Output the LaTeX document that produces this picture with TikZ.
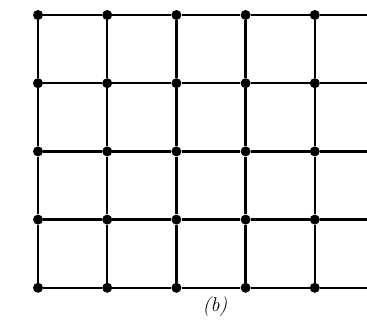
\documentclass[tikz,border=0pt]{standalone}
\usepackage{tikz}
\usetikzlibrary{positioning}

\begin{document}
\begin{tikzpicture}[x=0.03cm, y=-0.03cm,
    dot/.style={circle, fill=black, inner sep=0pt, minimum size=3mm},
    edge/.style={line width=1.9pt}]
    \useasboundingbox (0,0) rectangle (367,320);
    % grid points
    \foreach \i in {0,...,4} {
      \foreach \j in {0,...,4} {
        \node[dot] (d-\i-\j) at ({38+69.2*\i},{15+68.2*\j}) {};
      }
    }
    \foreach \j in {0,...,4}
      \coordinate (e-\j) at (367,{15+68.2*\j});
    % horizontal lines
    \foreach \j in {0,...,4} {
      \foreach \i [evaluate=\i as \k using int(\i+1)] in {0,...,3}
        \draw[edge] (d-\i-\j) -- (d-\k-\j);
      \draw[edge] (d-4-\j) -- (e-\j);
    }
    % vertical lines
    \foreach \i in {0,...,4} {
      \foreach \j [evaluate=\j as \k using int(\j+1)] in {0,...,3}
        \draw[edge] (d-\i-\j) -- (d-\i-\k);
    }
    \node (lbl) at (215,307) {\fontsize{17}{19}\selectfont\textit{(b)}};
\end{tikzpicture}
\end{document}
